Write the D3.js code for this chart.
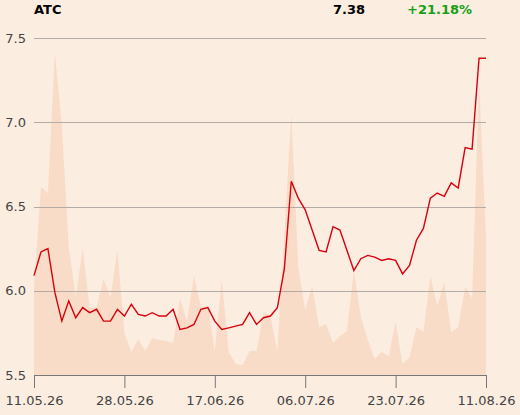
<!DOCTYPE html>
<html>
<head>
<meta charset="utf-8">
<script src="https://cdn.jsdelivr.net/npm/d3@7/dist/d3.min.js"></script>
<style>
  html, body { margin: 0; padding: 0; background: #fcede1; }
  svg { display: block; font-family: "DejaVu Sans", sans-serif; }
</style>
</head>
<body>
<svg id="chart" width="520" height="415"></svg>
<script>
const ticker = "ATC";
const lastPrice = "7.38";
const change = "+21.18%";

const prices = [6.09, 6.23, 6.25, 5.99, 5.82, 5.94, 5.84, 5.90, 5.87, 5.89,
  5.82, 5.82, 5.89, 5.85, 5.92, 5.86, 5.85, 5.87, 5.85, 5.85,
  5.89, 5.77, 5.78, 5.80, 5.89, 5.90, 5.82, 5.77, 5.78, 5.79,
  5.80, 5.87, 5.80, 5.84, 5.85, 5.90, 6.13, 6.65, 6.55, 6.48,
  6.36, 6.24, 6.23, 6.38, 6.36, 6.24, 6.12, 6.19, 6.21, 6.20,
  6.18, 6.19, 6.18, 6.10, 6.15, 6.30, 6.37, 6.55, 6.58, 6.56,
  6.64, 6.61, 6.85, 6.84, 7.38, 7.38];

const volumes = [87, 188, 182, 322, 250, 128, 78, 127, 67, 68,
  96, 78, 125, 42, 23, 36, 24, 37, 35, 34,
  32, 76, 54, 99, 68, 69, 24, 96, 23, 11,
  10, 24, 24, 63, 59, 24, 140, 261, 108, 65,
  89, 48, 51, 32, 39, 44, 105, 58, 35, 16,
  23, 19, 53, 11, 18, 48, 43, 99, 69, 93,
  43, 48, 88, 77, 294, 138];

const xTickIndex = [0, 13, 26, 39, 52, 65];
const xTickLabels = ["11.05.26", "28.05.26", "17.06.26", "06.07.26", "23.07.26", "11.08.26"];
const yTicks = [5.5, 6.0, 6.5, 7.0, 7.5];

(function () {
const svg = d3.select("#chart");
const mLeft = 34, mRight = 486, mTop = 38, mBottom = 375;

const x = d3.scaleLinear().domain([0, prices.length - 1]).range([mLeft, mRight]);
const y = d3.scaleLinear().domain([5.5, 7.5]).range([mBottom, mTop]);
const yv = d3.scaleLinear().domain([0, 337]).range([mBottom, mTop]);

// volume area
const area = d3.area()
  .x((d, i) => x(i))
  .y0(mBottom)
  .y1(d => yv(d));
svg.append("path")
  .datum(volumes)
  .attr("d", area)
  .attr("fill", "#f8dcc7");

// gridlines
svg.append("g")
  .selectAll("line")
  .data(yTicks.filter(t => t > 5.5))
  .join("line")
  .attr("x1", mLeft).attr("x2", mRight)
  .attr("y1", d => Math.round(y(d)) + 0.5).attr("y2", d => Math.round(y(d)) + 0.5)
  .attr("stroke", "#b3aca6").attr("stroke-width", 1);

// y labels
svg.append("g")
  .selectAll("text")
  .data(yTicks)
  .join("text")
  .attr("x", 26)
  .attr("y", d => y(d))
  .attr("dy", "0.35em")
  .attr("text-anchor", "end")
  .attr("font-size", 13)
  .attr("fill", "#444")
  .text(d => d.toFixed(1));

// x axis
const xAxis = d3.axisBottom(x)
  .tickValues(xTickIndex)
  .tickFormat((d, i) => xTickLabels[i])
  .tickSize(13)
  .tickPadding(8)
  .tickSizeOuter(0);
const gx = svg.append("g")
  .attr("transform", `translate(0,${mBottom})`)
  .call(xAxis);
gx.select(".domain").attr("stroke", "#777");
gx.selectAll(".tick line").attr("stroke", "#777");
gx.selectAll(".tick text")
  .attr("font-size", 13)
  .attr("font-family", "DejaVu Sans, sans-serif")
  .attr("fill", "#444");

// price line
const line = d3.line()
  .x((d, i) => x(i))
  .y(d => y(d));
svg.append("path")
  .datum(prices)
  .attr("d", line)
  .attr("fill", "none")
  .attr("stroke", "#d9000d")
  .attr("stroke-width", 1.4)
  .attr("stroke-linejoin", "miter");

// header
svg.append("text")
  .attr("x", 34).attr("y", 14)
  .attr("font-size", 13).attr("font-weight", "bold")
  .attr("fill", "#000")
  .text(ticker);
svg.append("text")
  .attr("x", 365).attr("y", 14)
  .attr("text-anchor", "end")
  .attr("font-size", 13).attr("font-weight", "bold")
  .attr("fill", "#000")
  .text(lastPrice);
svg.append("text")
  .attr("x", 407).attr("y", 14)
  .attr("font-size", 13).attr("font-weight", "bold")
  .attr("fill", "#16a016")
  .text(change);
})();
</script>
</body>
</html>
